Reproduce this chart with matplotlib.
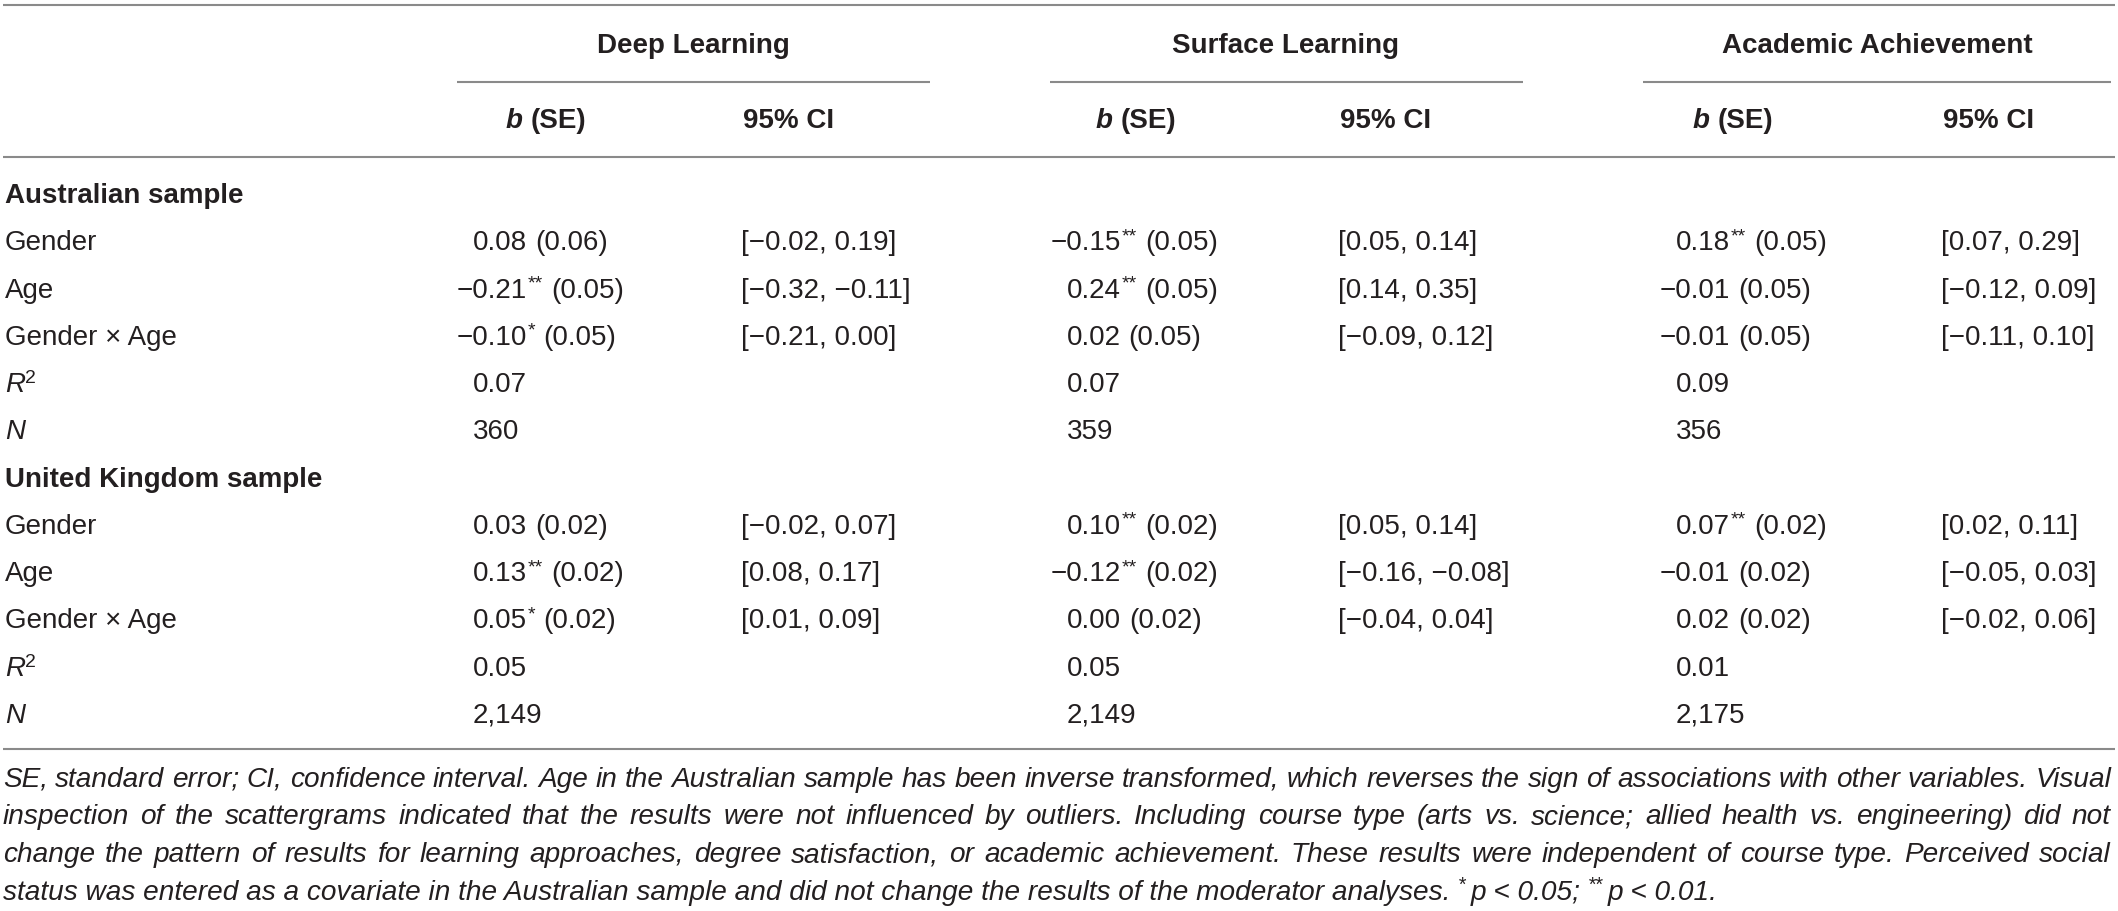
import re
import matplotlib
matplotlib.use('Agg')
import matplotlib.pyplot as plt

# ---- table content ----
groups = ['Deep Learning', 'Surface Learning', 'Academic Achievement']
sections = ['Australian sample', 'United Kingdom sample']
row_labels = ['Gender', 'Age', 'Gender × Age', 'R2', 'N']

# Australian sample
deep_b_au = ['0.08 (0.06)', '−0.21** (0.05)', '−0.10* (0.05)', '0.07', '360']
deep_ci_au = ['[−0.02, 0.19]', '[−0.32, −0.11]', '[−0.21, 0.00]', '', '']
surf_b_au = ['−0.15** (0.05)', '0.24** (0.05)', '0.02 (0.05)', '0.07', '359']
surf_ci_au = ['[0.05, 0.14]', '[0.14, 0.35]', '[−0.09, 0.12]', '', '']
acad_b_au = ['0.18** (0.05)', '−0.01 (0.05)', '−0.01 (0.05)', '0.09', '356']
acad_ci_au = ['[0.07, 0.29]', '[−0.12, 0.09]', '[−0.11, 0.10]', '', '']

# United Kingdom sample
deep_b_uk = ['0.03 (0.02)', '0.13** (0.02)', '0.05* (0.02)', '0.05', '2,149']
deep_ci_uk = ['[−0.02, 0.07]', '[0.08, 0.17]', '[0.01, 0.09]', '', '']
surf_b_uk = ['0.10** (0.02)', '−0.12** (0.02)', '0.00 (0.02)', '0.05', '2,149']
surf_ci_uk = ['[0.05, 0.14]', '[−0.16, −0.08]', '[−0.04, 0.04]', '', '']
acad_b_uk = ['0.07** (0.02)', '−0.01 (0.02)', '0.02 (0.02)', '0.01', '2,175']
acad_ci_uk = ['[0.02, 0.11]', '[−0.05, 0.03]', '[−0.02, 0.06]', '', '']

footnote = [
    'SE, standard error; CI, confidence interval. Age in the Australian sample has been inverse transformed, '
    'which reverses the sign of associations with other variables. Visual',
    'inspection of the scattergrams indicated that the results were not influenced by outliers. Including course '
    'type (arts vs. science; allied health vs. engineering) did not',
    'change the pattern of results for learning approaches, degree satisfaction, or academic achievement. '
    'These results were independent of course type. Perceived social',
    'status was entered as a covariate in the Australian sample and did not change the results of the '
    'moderator analyses.',
]

# ---- canvas in pixel units ----
W, H = 2118, 911
fig = plt.figure(figsize=(W / 100, H / 100), dpi=100)
ax = fig.add_axes([0, 0, 1, 1])
ax.set_xlim(0, W)
ax.set_ylim(H, 0)
ax.axis('off')
renderer = fig.canvas.get_renderer()

txt_color = '#231f20'
rule_color = '#8a8a8a'
fams = ['Liberation Sans', 'DejaVu Sans']
fs = 20
base = dict(family=fams, color=txt_color, fontsize=fs)
bold = dict(base, fontweight='bold')
ital = dict(base, fontstyle='italic')
sup = dict(base, fontsize=fs * 0.7)


def width(s, kw):
    t = ax.text(0, 0, s, **kw)
    w = t.get_window_extent(renderer).width
    t.remove()
    return w


def space_width(kw):
    return width('a a', kw) - width('aa', kw)


def runs_width(runs):
    total = 0
    for r in runs:
        if r[0] == 'gap':
            total += r[1]
        else:
            total += width(r[0], r[1])
    return total


def draw_runs(x, y, runs):
    # runs: (text, style, raise) or ('gap', px)
    for r in runs:
        if r[0] == 'gap':
            x += r[1]
            continue
        s, kw, dy = r
        ax.text(x, y - dy, s, va='baseline', ha='left', **kw)
        x += width(s, kw)
    return x


sp = space_width(base)
sup_raise = 9


def value_runs(s):
    # split "−0.21** (0.05)" into number, superscript stars and rest
    m = re.match(r'^([^*\s]+)(\**)\s*(.*)$', s)
    num, stars, rest = m.group(1), m.group(2), m.group(3)
    runs = [(num, base, 0)]
    if stars:
        runs.append(('gap', 1))
        runs.append((stars, sup, sup_raise))
    if rest:
        runs.append(('gap', sp))
        runs.append((rest, base, 0))
    return runs


# ---- rules ----
def hline(y, x0, x1):
    ax.plot([x0, x1], [y, y], color=rule_color, lw=1.5, solid_capstyle='butt')


hline(5, 3, 2115)
hline(157, 3, 2115)
hline(749, 3, 2115)

group_cx = [693, 1286, 1877]
group_span = [(457, 930), (1050, 1523), (1643, 2111)]
b_head_cx = [546, 1136, 1733]
b_col_x = [473, 1067, 1676]
ci_col_x = [741, 1338, 1941]

for g, cx, (x0, x1) in zip(groups, group_cx, group_span):
    ax.text(cx, 53, g, ha='center', va='baseline', **bold)
    hline(82, x0, x1)

# sub headers
bi = dict(bold, fontstyle='italic')
for cx, cix in zip(b_head_cx, ci_col_x):
    runs = [('b', bi, 0), ('gap', space_width(bold)), ('(SE)', bold, 0)]
    draw_runs(cx - runs_width(runs) / 2, 128, runs)
    ax.text(cix + 2, 128, '95% CI', ha='left', va='baseline', **bold)

# ---- body rows ----
row_base = [203 + 47.27 * i for i in range(12)]
minus_w = width('−1', base) - width('1', base)

cols_au = [(deep_b_au, deep_ci_au), (surf_b_au, surf_ci_au), (acad_b_au, acad_ci_au)]
cols_uk = [(deep_b_uk, deep_ci_uk), (surf_b_uk, surf_ci_uk), (acad_b_uk, acad_ci_uk)]

for si, (sec, cols) in enumerate(zip(sections, [cols_au, cols_uk])):
    y0 = row_base[si * 6]
    ax.text(5, y0, sec, ha='left', va='baseline', **bold)
    for ri, lab in enumerate(row_labels):
        y = row_base[si * 6 + 1 + ri]
        if lab == 'R2':
            draw_runs(5, y, [('R', ital, 0), ('2', sup, sup_raise)])
        elif lab == 'N':
            ax.text(5, y, 'N', ha='left', va='baseline', **ital)
        else:
            ax.text(5, y, lab, ha='left', va='baseline', **base)
        for (bvals, civals), bx, cix in zip(cols, b_col_x, ci_col_x):
            bv = bvals[ri]
            x = bx - minus_w if bv.startswith('−') else bx
            draw_runs(x, y, value_runs(bv))
            if civals[ri]:
                ax.text(cix, y, civals[ri], ha='left', va='baseline', **base)

# ---- footnote, justified ----
fn_left, fn_right = 3, 2111
fn_fs = fs
fn = dict(ital, fontsize=fn_fs)
w1 = width(footnote[0], fn)
fn_fs = min(fs * 1.05, fn_fs * (fn_right - fn_left) / w1)
fn = dict(ital, fontsize=fn_fs)
fn_sup = dict(fn, fontsize=fn_fs * 0.7)
fn_sp = space_width(fn)
fn_base = [787 + 37.5 * i for i in range(4)]

for line, y in zip(footnote[:3], fn_base[:3]):
    words = line.split(' ')
    ws = [width(w_, fn) for w_ in words]
    gap = (fn_right - fn_left - sum(ws)) / (len(words) - 1)
    x = fn_left
    for w_, ww in zip(words, ws):
        ax.text(x, y, w_, ha='left', va='baseline', **fn)
        x += ww + gap

last = [(footnote[3], fn, 0), ('gap', fn_sp), ('*', fn_sup, sup_raise), ('gap', fn_sp * 0.6),
        ('p < 0.05;', fn, 0), ('gap', fn_sp), ('**', fn_sup, sup_raise), ('gap', fn_sp * 0.6),
        ('p < 0.01.', fn, 0)]
draw_runs(fn_left, fn_base[3], last)

fig.savefig('out.png', dpi=100)
